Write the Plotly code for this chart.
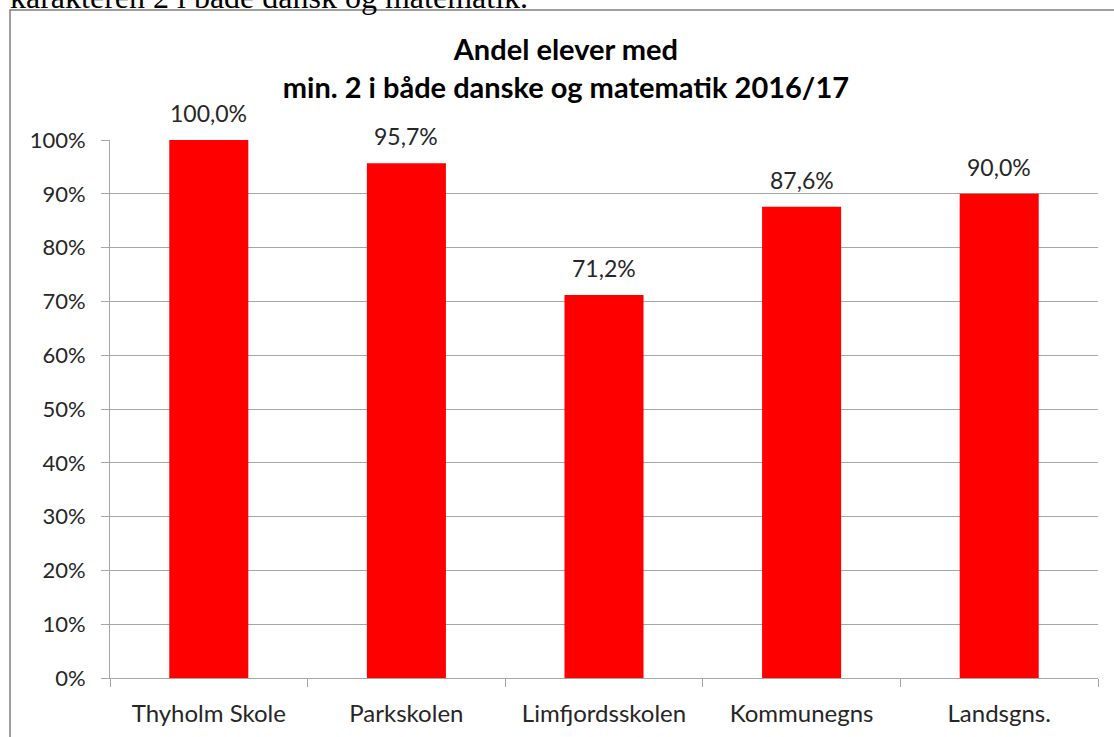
import plotly.graph_objects as go

schools = ["Thyholm Skole", "Parkskolen", "Limfjordsskolen", "Kommunegns", "Landsgns."]
share = [1.000, 0.957, 0.712, 0.876, 0.900]
y_ticks = [0, 0.1, 0.2, 0.3, 0.4, 0.5, 0.6, 0.7, 0.8, 0.9, 1.0]

W, H = 1114, 737
ml, mr, mt, mb = 110, 16, 140, 59
pw, ph = W - ml - mr, H - mt - mb

def px_x(p):
    return (p - ml) / pw

def px_y(p):
    return (H - mb - p) / ph

grey = "#a6a6a6"
txt = "#262626"
font = "Lato, 'Open Sans', sans-serif"

fig = go.Figure(go.Bar(
    x=schools, y=share,
    marker=dict(color="#ff0000", line=dict(width=0)),
    hovertemplate="%{x}: %{y:.1%}<extra></extra>",
))

# data labels above the bars
labels = [dict(
    x=s, y=v, xref="x", yref="y", text=f"{v * 100:.1f}%".replace(".", ","),
    showarrow=False, yanchor="bottom", yshift=11,
    font=dict(size=23, color=txt, family=font),
) for s, v in zip(schools, share)]

fig.update_layout(
    width=W, height=H,
    margin=dict(l=ml, r=mr, t=mt, b=mb),
    paper_bgcolor="white", plot_bgcolor="white",
    separators=",.",
    bargap=0.6,
    showlegend=False,
    title=dict(
        text="<b>Andel elever med<br>min. 2 i både danske og matematik 2016/17</b>",
        x=0.508, xanchor="center", y=1 - 60 / H, yanchor="top",
        font=dict(size=29, color="#000000", family=font),
    ),
    xaxis=dict(
        showline=True, linecolor=grey, linewidth=1,
        ticks="outside", tickson="boundaries", ticklen=8, tickcolor=grey,
        tickfont=dict(size=24, color=txt, family=font),
        ticklabelstandoff=14,
        showgrid=False, automargin=False,
    ),
    yaxis=dict(
        range=[0, 1], tickvals=y_ticks, tickformat=".0%",
        showline=True, linecolor=grey, linewidth=1,
        ticks="outside", ticklen=8, tickcolor=grey,
        showgrid=True, gridcolor=grey, gridwidth=1,
        tickfont=dict(size=22, color=txt, family=font),
        ticklabelstandoff=11,
        zeroline=False, automargin=False,
    ),
    shapes=[dict(
        type="rect", xref="paper", yref="paper",
        x0=px_x(10), x1=px_x(1120), y0=px_y(745), y1=px_y(10),
        line=dict(color="#808080", width=1.5), fillcolor="rgba(0,0,0,0)",
        layer="below",
    )],
    annotations=labels + [dict(
        text="karakteren 2 i både dansk og matematik.",
        xref="paper", yref="paper", x=px_x(8), y=px_y(17),
        xanchor="left", yanchor="bottom", showarrow=False,
        font=dict(size=32, color="#000000", family="Liberation Serif, serif"),
    )],
)

fig.write_html("out.html", config={"displayModeBar": False},
               post_script="document.body.style.margin='0';")
